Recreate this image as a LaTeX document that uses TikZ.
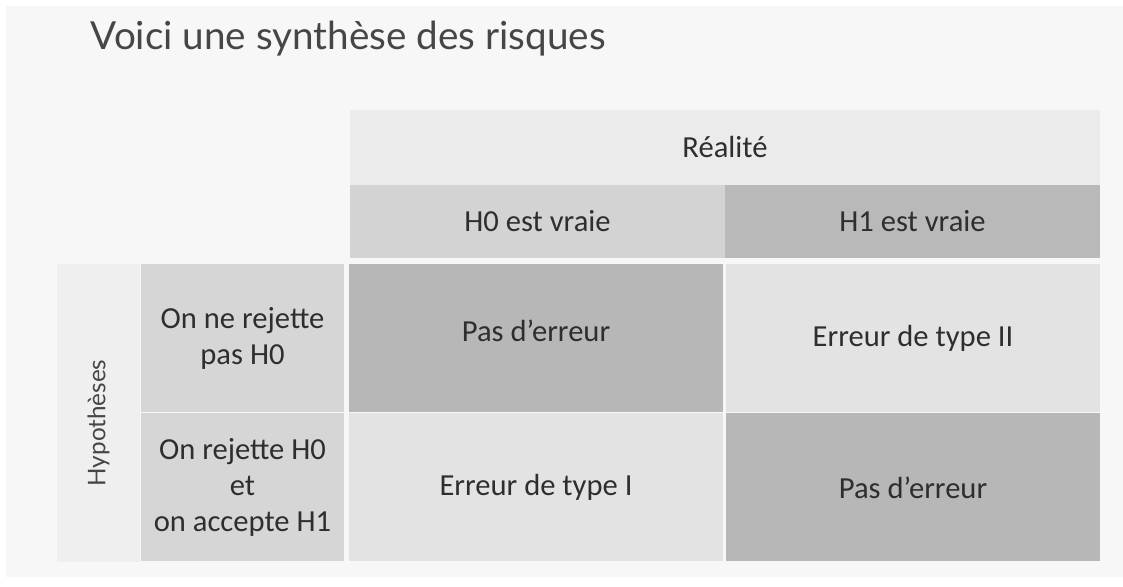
\documentclass[tikz,border=0pt]{standalone}
\usepackage{fontspec}
\setmainfont{Carlito}
\newfontfamily\titrefont{Lato}
\definecolor{fond}{HTML}{F7F7F7}
\definecolor{gristitre}{HTML}{464646}
\definecolor{gristexte}{HTML}{2E2E2E}
\definecolor{realite}{HTML}{EBEBEB}
\definecolor{vraiezero}{HTML}{D3D3D3}
\definecolor{vraieun}{HTML}{B9B9B9}
\definecolor{hypo}{HTML}{EFEFEF}
\definecolor{decision}{HTML}{D6D6D6}
\definecolor{erreur}{HTML}{E3E3E3}
\definecolor{juste}{HTML}{B7B7B7}

\begin{document}
\begin{tikzpicture}[
  cell/.style={inner sep=0pt,outer sep=0pt,align=center,text=gristexte,
    font=\fontsize{8.7}{10.2}\selectfont},
  head/.style={cell,minimum width=3.75cm,minimum height=0.73cm},
  rowlab/.style={cell,minimum width=2.03cm,minimum height=1.48cm,fill=decision},
  box/.style={cell,minimum width=3.74cm,minimum height=1.48cm}]
\useasboundingbox (0,0) rectangle (11.23,5.87);
\fill[fond] (0.06,0.10) rectangle (11.23,5.81);
\node[anchor=base west,inner sep=0pt,text=gristitre,
  font=\titrefont\fontsize{11}{13}\selectfont] (titre) at (0.9,5.37)
  {Voici une synthèse des risques};
% en-tete
\node[cell,fill=realite,minimum width=7.5cm,minimum height=0.75cm] (realite)
  at (7.25,4.395) {Réalité};
\node[head,fill=vraiezero] (hzero) at (5.375,3.655) {H0 est vraie};
\node[head,fill=vraieun] (hun) at (9.125,3.655) {H1 est vraie};
% colonne de gauche
\node[cell,fill=hypo,minimum width=0.83cm,minimum height=2.98cm] (hypo)
  at (0.985,1.74) {};
\node[rotate=90,text=gristitre,font=\titrefont\fontsize{6.9}{8}\selectfont]
  (hypotxt) at ([yshift=-0.1cm]hypo.center) {Hypothèses};
\node[rowlab] (nonrejet) at (2.425,2.485) {On ne rejette\\pas H0};
\node[rowlab] (rejet) at (2.425,0.995) {On rejette H0\\et\\on accepte H1};
% cases
\node[box,fill=juste] (casezz) at (5.36,2.485) {};
\node[cell] (casezztxt) at ([yshift=0.08cm]casezz.center) {Pas d’erreur};
\node[box,fill=erreur] (casezu) at (9.13,2.485) {Erreur de type II};
\node[box,fill=erreur] (caseuz) at (5.36,0.995) {Erreur de type I};
\node[box,fill=juste] (caseuu) at (9.13,0.995) {Pas d’erreur};
\end{tikzpicture}
\end{document}
